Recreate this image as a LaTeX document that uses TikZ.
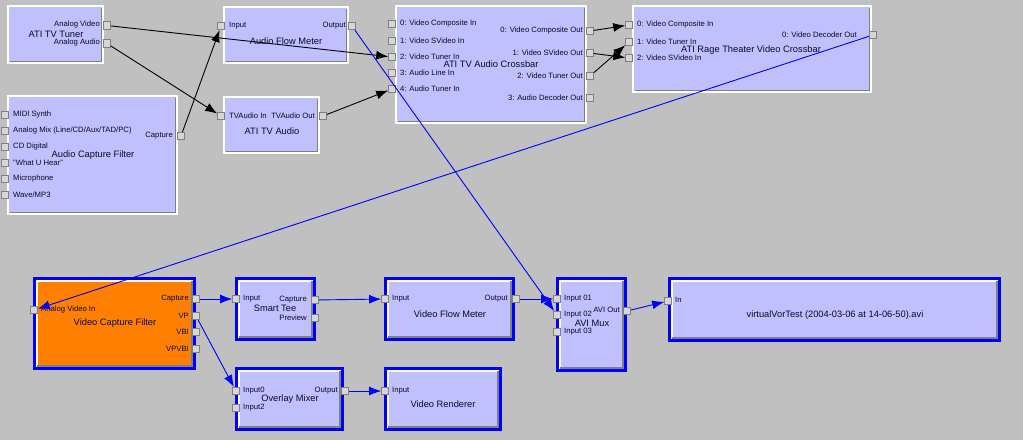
\documentclass[tikz,border=0pt]{standalone}
\usepackage{fontspec}
\setmainfont{Liberation Sans}
\usetikzlibrary{arrows.meta}
\definecolor{bg}{RGB}{192,192,192}
\definecolor{lav}{RGB}{192,192,255}
\definecolor{orng}{RGB}{255,128,0}
\definecolor{dgray}{RGB}{128,128,128}
\definecolor{pinfill}{RGB}{214,214,214}
\definecolor{txt}{RGB}{10,10,40}
\tikzset{
 boxbase/.style={rectangle, inner sep=0pt, outer sep=0pt, fill=lav, draw=none},
 frameW/.style={draw=white, line width=2pt},
 frameG/.style={draw=dgray, line width=1pt},
 selB/.style={draw=blue, line width=3pt},
 pinsq/.style={rectangle, inner sep=0pt, minimum width=7pt, minimum height=7.5pt, fill=pinfill, draw=dgray, line width=0.6pt},
 plab/.style={inner sep=0pt, text=txt, font=\fontsize{7.7}{8}\selectfont},
 ttl/.style={inner sep=0pt, text=txt, font=\fontsize{9.3}{10}\selectfont},
 conn/.style={draw=black, line width=0.9pt, -{Latex[length=12pt,width=9pt]}},
 bconn/.style={conn, draw=blue}
}
\newcommand\gbox[6][lav]{%
 \node[boxbase, fill=#1, minimum width={(#5-#3)*1pt}, minimum height={(#6-#4)*1pt}] (#2) at ({(#3+#5)/2},{(#4+#6)/2}) {};
 \draw[frameW] ([shift={(1,1)}]#2.north west) rectangle ([shift={(-1,-1)}]#2.south east);
 \draw[frameG] ([shift={(2.5,-2.5)}]#2.south west) -- ([shift={(-2.5,-2.5)}]#2.south east) -- ([shift={(-2.5,2.5)}]#2.north east);
}
\newcommand\selbox[6][lav]{%
 \node[boxbase, fill=#1, minimum width={(#5-#3)*1pt}, minimum height={(#6-#4)*1pt}] (#2) at ({(#3+#5)/2},{(#4+#6)/2}) {};
 \draw[selB] ([shift={(1.5,1.5)}]#2.north west) rectangle ([shift={(-1.5,-1.5)}]#2.south east);
 \draw[draw=white, line width=1.5pt] ([shift={(4,4)}]#2.north west) rectangle ([shift={(-4,-4)}]#2.south east);
 \draw[draw=dgray, line width=1.5pt] ([shift={(4,-4)}]#2.south west) -- ([shift={(-4,-4)}]#2.south east) -- ([shift={(-4,4)}]#2.north east);
}
\newcommand\pn[3]{\node[pinsq] (#1) at (#2,#3) {};}
\begin{document}
\begin{tikzpicture}[x=1pt,y=-1pt]
\useasboundingbox (0,0) rectangle (1023,440);
\fill[bg] (0,0) rectangle (1023,440);

% ---- ATI TV Tuner
\gbox{tuner}{7}{5}{104}{64}
\node[ttl] (tunerT) at (56,34) {ATI TV Tuner};
\node[plab, anchor=east] (tunerLV) at (100,25) {Analog Video};
\node[plab, anchor=east] (tunerLA) at (100,43) {Analog Audio};
\pn{tunerAV}{107}{25.5}
\pn{tunerAA}{107}{43.5}

% ---- Audio Capture Filter
\gbox{acf}{7}{95}{178}{215}
\node[ttl] (acfT) at (93,155) {Audio Capture Filter};
\node[plab, anchor=west] (acfL1) at (13,115) {MIDI Synth};
\node[plab, anchor=west] (acfL2) at (13,131) {Analog Mix (Line/CD/Aux/TAD/PC)};
\node[plab, anchor=west] (acfL3) at (13,147) {CD Digital};
\node[plab, anchor=west] (acfL4) at (13,163) {"What U Hear"};
\node[plab, anchor=west] (acfL5) at (13,179) {Microphone};
\node[plab, anchor=west] (acfL6) at (13,195) {Wave/MP3};
\pn{acfI1}{5}{115}
\pn{acfI2}{5}{131}
\pn{acfI3}{5}{147}
\pn{acfI4}{5}{163}
\pn{acfI5}{5}{179}
\pn{acfI6}{5}{195}
\node[plab, anchor=east] (acfLC) at (173,136) {Capture};
\pn{acfCap}{181}{136}

% ---- Audio Flow Meter
\gbox{afm}{223}{6}{349}{64}
\node[ttl] (afmT) at (286,41) {Audio Flow Meter};
\node[plab, anchor=west] (afmLI) at (229,26) {Input};
\node[plab, anchor=east] (afmLO) at (346,26) {Output};
\pn{afmIn}{221}{26}
\pn{afmOut}{352}{26}

% ---- ATI TV Audio
\gbox{tva}{223}{96}{320}{154}
\node[ttl] (tvaT) at (272,131) {ATI TV Audio};
\node[plab, anchor=west] (tvaLI) at (229,116) {TVAudio In};
\node[plab, anchor=east] (tvaLO) at (315,116) {TVAudio Out};
\pn{tvaIn}{221}{116}
\pn{tvaOut}{323}{116}

% ---- ATI TV Audio Crossbar
\gbox{xbar}{395}{5}{587}{124}
\node[ttl] (xbarT) at (491,64) {ATI TV Audio Crossbar};
\node[plab, anchor=west] (xbarL0) at (400,24) {0: Video Composite In};
\node[plab, anchor=west] (xbarL1) at (400,41) {1: Video SVideo In};
\node[plab, anchor=west] (xbarL2) at (400,57) {2: Video Tuner In};
\node[plab, anchor=west] (xbarL3) at (400,73) {3: Audio Line In};
\node[plab, anchor=west] (xbarL4) at (400,89) {4: Audio Tuner In};
\pn{xbarI0}{392}{24}
\pn{xbarI1}{392}{41}
\pn{xbarI2}{392}{57}
\pn{xbarI3}{392}{73}
\pn{xbarI4}{392}{89}
\node[plab, anchor=east] (xbarR0) at (583,31) {0: Video Composite Out};
\node[plab, anchor=east] (xbarR1) at (583,53) {1: Video SVideo Out};
\node[plab, anchor=east] (xbarR2) at (583,76) {2: Video Tuner Out};
\node[plab, anchor=east] (xbarR3) at (583,98) {3: Audio Decoder Out};
\pn{xbarO0}{590}{31}
\pn{xbarO1}{590}{53}
\pn{xbarO2}{590}{76}
\pn{xbarO3}{590}{98}

% ---- ATI Rage Theater Video Crossbar
\gbox{rage}{632}{5}{872}{93}
\node[ttl] (rageT) at (751,50) {ATI Rage Theater Video Crossbar};
\node[plab, anchor=west] (rageL0) at (637,25) {0: Video Composite In};
\node[plab, anchor=west] (rageL1) at (637,42) {1: Video Tuner In};
\node[plab, anchor=west] (rageL2) at (637,58) {2: Video SVideo In};
\pn{rageI0}{629}{25}
\pn{rageI1}{629}{42}
\pn{rageI2}{629}{58}
\node[plab, anchor=east] (rageR0) at (857,35) {0: Video Decoder Out};
\pn{rageOut}{873}{35}

% ---- Video Capture Filter
\selbox[orng]{vcf}{33}{277}{196}{370}
\node[ttl] (vcfT) at (115,323) {Video Capture Filter};
\node[plab, anchor=west] (vcfLI) at (41,310) {Analog Video In};
\pn{vcfIn}{34}{310}
\node[plab, anchor=east] (vcfL1) at (189,299) {Capture};
\node[plab, anchor=east] (vcfL2) at (189,316) {VP};
\node[plab, anchor=east] (vcfL3) at (189,332) {VBI};
\node[plab, anchor=east] (vcfL4) at (189,349) {VPVBI};
\pn{vcfCap}{196}{299}
\pn{vcfVP}{196}{316}
\pn{vcfVBI}{196}{332}
\pn{vcfVPVBI}{196}{349}

% ---- Smart Tee
\selbox{st}{235}{277}{316}{341}
\node[ttl] (stT) at (275,308) {Smart Tee};
\node[plab, anchor=west] (stLI) at (243,299) {Input};
\node[plab, anchor=east] (stLC) at (307,300) {Capture};
\node[plab, anchor=east] (stLP) at (307,318) {Preview};
\pn{stIn}{236}{299}
\pn{stCap}{315}{300}
\pn{stPrev}{315}{318}

% ---- Video Flow Meter
\selbox{vfm}{384}{277}{515}{341}
\node[ttl] (vfmT) at (450,314) {Video Flow Meter};
\node[plab, anchor=west] (vfmLI) at (392,299) {Input};
\node[plab, anchor=east] (vfmLO) at (508,299) {Output};
\pn{vfmIn}{385}{299}
\pn{vfmOut}{516}{299}

% ---- AVI Mux
\selbox{mux}{556}{277}{627}{372}
\node[ttl] (muxT) at (592,323) {AVI Mux};
\node[plab, anchor=west] (muxL1) at (564,299) {Input 01};
\node[plab, anchor=west] (muxL2) at (564,315) {Input 02};
\node[plab, anchor=west] (muxL3) at (564,332) {Input 03};
\pn{muxI1}{557}{299}
\pn{muxI2}{557}{315}
\pn{muxI3}{557}{332}
\node[plab, anchor=east] (muxLO) at (620,310) {AVI Out};
\pn{muxOut}{627}{311}

% ---- File writer
\selbox{file}{668}{277}{1001}{342}
\node[ttl] (fileT) at (835,315) {virtualVorTest (2004-03-06 at 14-06-50).avi};
\node[plab, anchor=west] (fileLI) at (675,300) {In};
\pn{fileIn}{668}{301}

% ---- Overlay Mixer
\selbox{om}{235}{367}{344}{431}
\node[ttl] (omT) at (290,399) {Overlay Mixer};
\node[plab, anchor=west] (omL0) at (243,391) {Input0};
\node[plab, anchor=west] (omL2) at (243,408) {Input2};
\node[plab, anchor=east] (omLO) at (338,391) {Output};
\pn{omI0}{236}{391}
\pn{omI2}{236}{408}
\pn{omOut}{345}{391}

% ---- Video Renderer
\selbox{vr}{384}{367}{502}{431}
\node[ttl] (vrT) at (443,404) {Video Renderer};
\node[plab, anchor=west] (vrLI) at (392,391) {Input};
\pn{vrIn}{385}{391}

% ---- black connectors
\draw[conn] (tunerAV) -- (xbarI2);
\draw[conn] (tunerAA) -- (tvaIn);
\draw[conn] (acfCap) -- (afmIn);
\draw[conn] (tvaOut) -- (xbarI4);
\draw[conn] (xbarO0) -- (rageI0);
\draw[conn] (xbarO1) -- (rageI2);
\draw[conn] (xbarO2) -- (rageI1);

% ---- blue connectors
\draw[bconn] (afmOut) -- (muxI2);
\draw[bconn] (rageOut) -- (vcfIn);
\draw[bconn] (vcfCap) -- (stIn);
\draw[bconn] (stCap) -- (vfmIn);
\draw[bconn] (vfmOut) -- (muxI1);
\draw[bconn] (vcfVP) -- (omI0);
\draw[bconn] (omOut) -- (vrIn);
\draw[bconn] (muxOut) -- (fileIn);
\end{tikzpicture}
\end{document}
